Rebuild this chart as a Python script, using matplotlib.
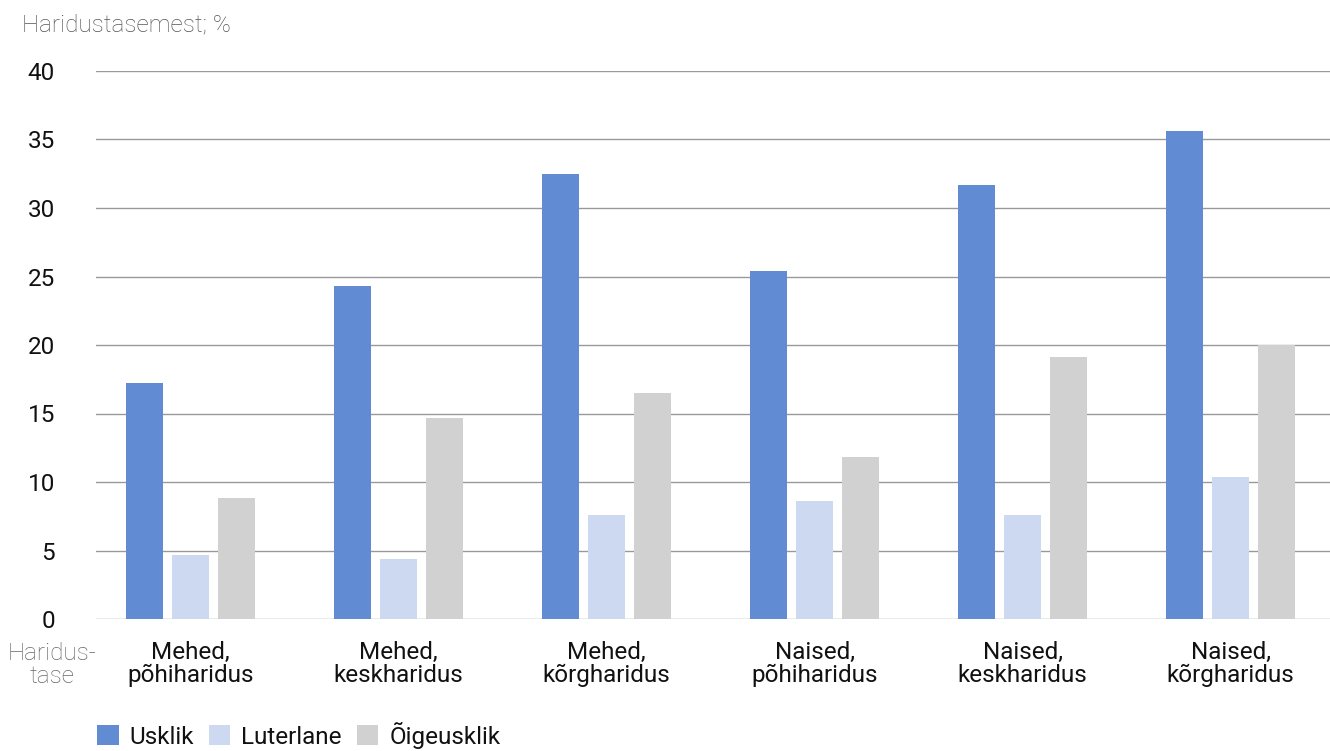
import matplotlib
matplotlib.use("Agg")
import matplotlib.pyplot as plt
import numpy as np
from matplotlib.patches import Patch

categories = ["Mehed,\npõhiharidus", "Mehed,\nkeskharidus", "Mehed,\nkõrgharidus",
              "Naised,\npõhiharidus", "Naised,\nkeskharidus", "Naised,\nkõrgharidus"]
series_names = ["Usklik", "Luterlane", "Õigeusklik"]
usklik = [17.2, 24.3, 32.5, 25.4, 31.7, 35.6]
luterlane = [4.7, 4.4, 7.6, 8.6, 7.6, 10.4]
oigeusklik = [8.8, 14.7, 16.5, 11.8, 19.1, 20.0]
yticks = [0, 5, 10, 15, 20, 25, 30, 35, 40]
colors = ["#618BD3", "#CDD9F0", "#D0D1D0"]

plt.rcParams['font.family'] = ['Roboto', 'DejaVu Sans']

fig = plt.figure(figsize=(13.3, 7.51), dpi=100)
ax = fig.add_axes([96/1330, 1-619/751, 1-96/1330, (619-71)/751])

x = np.arange(len(categories))
w = 0.178
off = 0.221
for i, (vals, c) in enumerate(zip([usklik, luterlane, oigeusklik], colors)):
    ax.bar(x + (i-1)*off, vals, width=w, color=c, zorder=3)

ax.set_xlim(-0.454, 5.478)
ax.set_ylim(0, 40)
ax.set_yticks(yticks)
ax.set_yticklabels([str(t) for t in yticks], fontsize=17.5, color='#111111')
ax.tick_params(axis='y', length=0, pad=29.5)
ax.set_xticks(x)
ax.set_xticklabels(categories, fontsize=17.5, fontweight='normal', color='#111111', linespacing=1.0)
ax.tick_params(axis='x', length=0, pad=16)
ax.grid(axis='y', color='#999999', lw=1, zorder=0)
for s in ax.spines.values():
    s.set_visible(False)

fig.text(22/1330, 1-25/751, "Haridustasemest; %", fontsize=17.5, color='#555555',
         fontweight='light', va='center', ha='left')
fig.text(52/1330, 1-665/751, "Haridus-\ntase", fontsize=17.5, color='#666666',
         fontweight='light', va='center', ha='center', linespacing=1.0)

handles = [Patch(facecolor=c, label=n) for c, n in zip(colors, series_names)]
leg = fig.legend(handles=handles, loc='lower left', bbox_to_anchor=(87/1330, -0.010),
                 ncol=3, frameon=False, fontsize=17.5, handlelength=0.9, handleheight=0.9,
                 handletextpad=0.45, columnspacing=0.6, borderaxespad=0)
for t in leg.get_texts():
    t.set_color('#111111')

fig.savefig("out.png", dpi=100)
